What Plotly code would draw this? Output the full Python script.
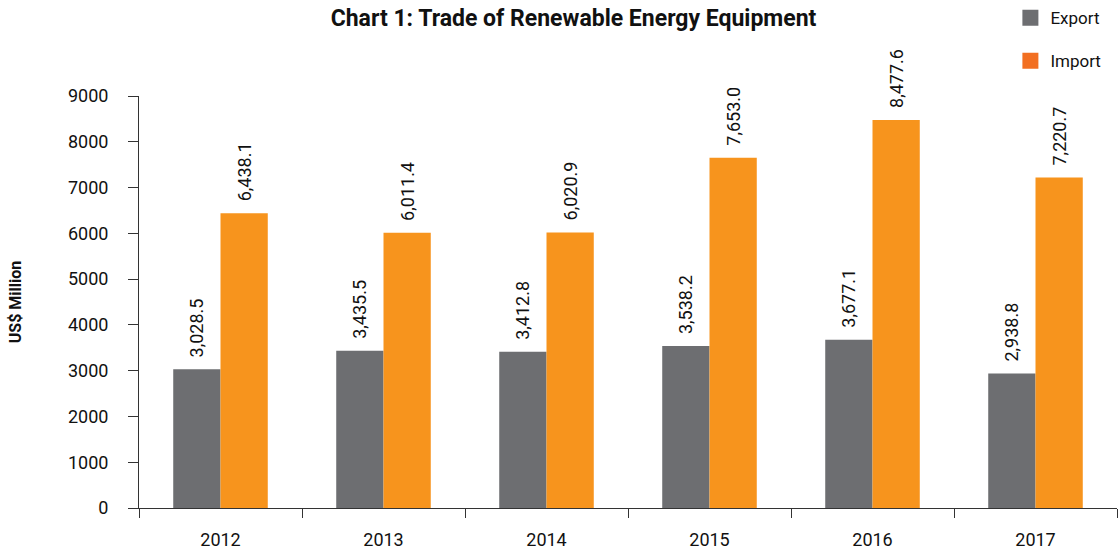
import plotly.graph_objects as go

years = ["2012", "2013", "2014", "2015", "2016", "2017"]
export_vals = [3028.5, 3435.5, 3412.8, 3538.2, 3677.1, 2938.8]
import_vals = [6438.1, 6011.4, 6020.9, 7653.0, 8477.6, 7220.7]
y_ticks = [0, 1000, 2000, 3000, 4000, 5000, 6000, 7000, 8000, 9000]

FONT = "Roboto, Liberation Sans Narrow, sans-serif"
GRAY = "#6D6E71"
ORANGE = "#F7941D"
LEG_ORANGE = "#F26F21"

def fmt(v):
    # leading non-breaking spaces lift the rotated label a little off the bar
    return "\u00a0\u00a0" + f"{v:,.1f}"

fig = go.Figure()
fig.add_trace(go.Bar(
    x=years, y=export_vals, name="Export", marker_color=GRAY,
    marker_line_width=0,
    text=[fmt(v) for v in export_vals], textposition="outside", textangle=-90,
    constraintext="none",
    textfont=dict(size=18, color="#111", family=FONT), cliponaxis=False,
    showlegend=False,
))
fig.add_trace(go.Bar(
    x=years, y=import_vals, name="Import", marker_color=ORANGE,
    marker_line_width=0,
    text=[fmt(v) for v in import_vals], textposition="outside", textangle=-90,
    constraintext="none",
    textfont=dict(size=18, color="#111", family=FONT), cliponaxis=False,
    showlegend=False,
))
# legend entries (markers only, no data drawn)
fig.add_trace(go.Scatter(x=[None], y=[None], mode="markers", name="Export",
                         marker=dict(symbol="square", size=16, color=GRAY),
                         showlegend=True, legend="legend"))
fig.add_trace(go.Scatter(x=[None], y=[None], mode="markers", name="Import",
                         marker=dict(symbol="square", size=16, color=LEG_ORANGE),
                         showlegend=True, legend="legend2"))

legend_common = dict(
    font=dict(size=17, family=FONT, color="#111"),
    bgcolor="rgba(0,0,0,0)", xanchor="left", yanchor="middle",
    itemwidth=30, tracegroupgap=0,
)

fig.update_layout(
    width=1118, height=551,
    paper_bgcolor="white", plot_bgcolor="white",
    margin=dict(l=139, r=1, t=95, b=43),
    barmode="group", bargap=0.42, bargroupgap=0,
    title=dict(text="<b>Chart 1: Trade of Renewable Energy Equipment</b>",
               x=0.513, xanchor="center", y=0.967, yanchor="middle",
               font=dict(size=23, family=FONT, color="#111")),
    font=dict(family=FONT, color="#111"),
    legend=dict(x=0.891, y=1.186, **legend_common),
    legend2=dict(x=0.891, y=1.082, **legend_common),
    xaxis=dict(
        type="category", showline=True, linecolor="#333", linewidth=1,
        ticks="outside", ticklen=9, tickcolor="#333", tickson="boundaries",
        tickfont=dict(size=18, family=FONT, color="#111"),
        ticklabelstandoff=15,
        showgrid=False, zeroline=False, automargin=False,
    ),
    yaxis=dict(
        range=[0, 9000], tickvals=y_ticks, showline=True, linecolor="#333",
        linewidth=1, ticks="outside", ticklen=10, tickcolor="#333",
        tickfont=dict(size=18, family=FONT, color="#111"),
        ticklabelstandoff=16,
        showgrid=False, zeroline=False, automargin=False,
        title=dict(text="<b>US$ Million</b>", standoff=42,
                   font=dict(size=16, family=FONT, color="#111")),
    ),
)

fig.write_html("out.html", config={"displayModeBar": False},
               post_script="document.body.style.margin='0';")
